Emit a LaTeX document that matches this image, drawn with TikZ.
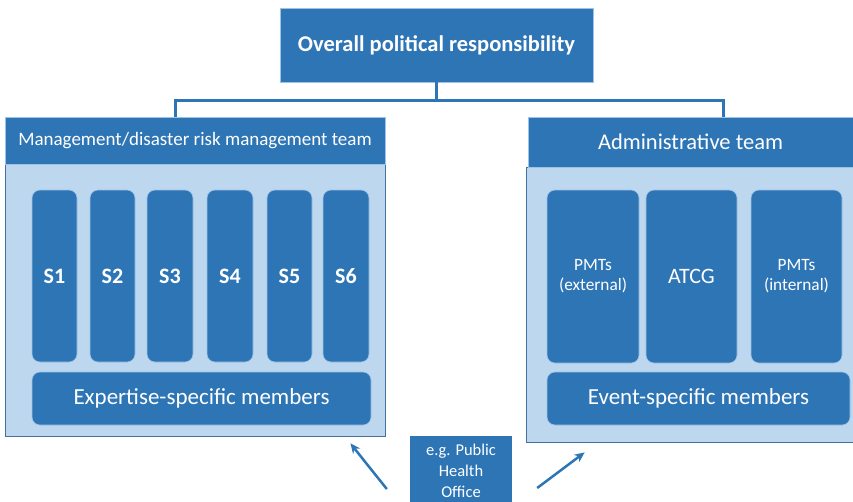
\documentclass[tikz,border=0pt]{standalone}
\usepackage{fontspec}
\setmainfont{Carlito}
\usetikzlibrary{arrows.meta,calc}
\definecolor{dk}{HTML}{2E75B6}
\definecolor{lt}{HTML}{BDD7EE}
\definecolor{edge}{HTML}{41719C}
\definecolor{soft}{HTML}{9DC3E6}
\begin{document}
\begin{tikzpicture}[x=1pt,y=-1pt,
  hdr/.style={fill=dk,draw=soft,line width=0.8pt,inner sep=0pt,text=white,align=center},
  body/.style={fill=lt,draw=edge,line width=0.8pt,inner sep=0pt},
  rbox/.style={fill=dk,draw=soft,line width=0.6pt,rounded corners=8pt,inner sep=0pt,text=white,align=center},
  conn/.style={draw=dk,line width=3pt},
  arr/.style={draw=dk,line width=2.5pt,-{Stealth[length=10pt,width=9pt]}}]
\useasboundingbox (0,0) rectangle (853,501);
% top
\node[hdr,minimum width=313pt,minimum height=74pt,font=\fontsize{22.5}{24}\selectfont\bfseries] (top) at (436.5,45) {Overall political responsibility};
% left
\node[body,minimum width=380pt,minimum height=272pt] (lbody) at (195,300) {};
\node[hdr,minimum width=380pt,minimum height=47pt,font=\fontsize{19}{21}\selectfont] (lhead) at (195,140.5) {Management/disaster risk management team};
\foreach \n/\a/\b in {1/32/77,2/90/135,3/147/193,4/207/253,5/267/312,6/323/369}{
  \node[rbox,minimum width={\b-\a},minimum height=172pt,font=\fontsize{22}{24}\selectfont\bfseries] (s\n) at ({(\a+\b)/2},276) {S\n};
}
\node[rbox,minimum width=339pt,minimum height=53pt,font=\fontsize{23}{25}\selectfont] (exp) at (201.5,398.5) {Expertise-specific members};
% right
\node[body,minimum width=327pt,minimum height=275pt] (rbody) at (689.5,304.5) {};
\node[hdr,minimum width=325pt,minimum height=50pt,font=\fontsize{22.5}{24}\selectfont] (rhead) at (690.5,142) {Administrative team};
\node[rbox,minimum width=92pt,minimum height=173pt,font=\fontsize{17.3}{20}\selectfont] (pe) at (593,276.5) {PMTs\\(external)};
\node[rbox,minimum width=91pt,minimum height=173pt,font=\fontsize{22}{24}\selectfont] (atcg) at (691.5,276.5) {ATCG};
\node[rbox,minimum width=91pt,minimum height=173pt,font=\fontsize{17.3}{20}\selectfont] (pi) at (796.5,276.5) {PMTs\\(internal)};
\node[rbox,minimum width=303pt,minimum height=53pt,font=\fontsize{23}{25}\selectfont] (evt) at (698.5,398.5) {Event-specific members};
% PHO
\node[fill=dk,inner sep=0pt,minimum width=102pt,minimum height=70pt,text=white,align=center,font=\fontsize{16.5}{21}\selectfont] (pho) at (461,471) {e.g. Public\\Health\\Office};
% connectors
\coordinate (jn) at ($(top.south)+(0,18)$);
\coordinate (ldrop) at ($(lhead.north west)+(171,0)$);
\coordinate (rdrop) at ($(rhead.north west)+(196,0)$);
\draw[conn] (top.south) -- (jn);
\draw[conn] (ldrop) |- (jn) -| (rdrop);
\coordinate (la0) at ($(pho.west)+(-23,18)$);
\coordinate (la1) at ($(lbody.south east)+(-35,7)$);
\coordinate (ra0) at ($(pho.east)+(25,17)$);
\coordinate (ra1) at ($(rbody.south west)+(59,10)$);
\draw[arr] (la0) -- (la1);
\draw[arr] (ra0) -- (ra1);
\end{tikzpicture}
\end{document}
